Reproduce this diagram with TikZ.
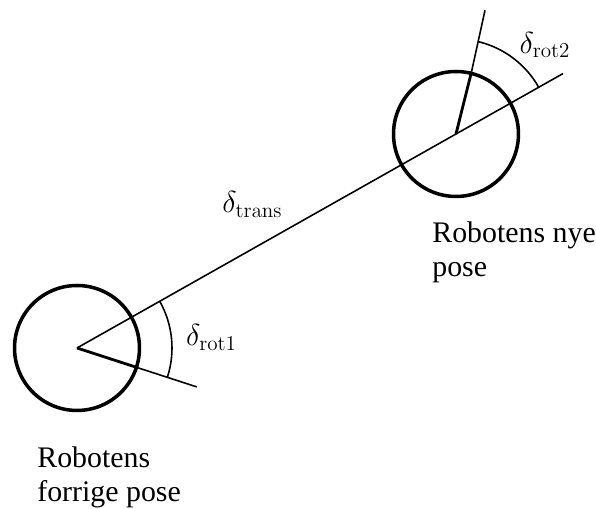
\documentclass[tikz,border=0pt]{standalone}
\usepackage{amsmath}
\usepackage[no-math]{fontspec}
\setmainfont{Liberation Serif}
\usetikzlibrary{calc}

\tikzset{
  robot/.style={circle, draw, line width=2pt, minimum size=2.5cm, inner sep=0pt},
  heading/.style={line width=1.6pt},
  thinline/.style={line width=0.9pt},
  caption/.style={align=left, anchor=north west, inner sep=0pt, font=\fontsize{17}{19.5}\selectfont},
  anglelabel/.style={inner sep=0pt, font=\fontsize{18.5}{21}\selectfont}
}

\begin{document}
\begin{tikzpicture}[x=0.02cm, y=0.02cm]
  \useasboundingbox (0,0) rectangle (596,509);

  % Old and new pose
  \node[robot] (old) at (77,161) {};
  \node[robot] (new) at (456,375) {};
  \coordinate (transend) at ($(new.center)+(29.45:123)$);
  \coordinate (oldtip) at ($(old.center)+(-18:126)$);
  \coordinate (newtip) at ($(new.center)+(76.8:127)$);

  % Translation
  \draw[thinline] (old.center) -- (transend);
  \node[anglelabel] (trans) at (252.5,304.5) {$\delta_{\mathrm{trans}}$};

  % Headings
  \draw[heading] (old.center) -- (old.-18);
  \draw[thinline] (old.-18) -- (oldtip);
  \draw[heading] (new.center) -- (new.76.8);
  \draw[thinline] (new.76.8) -- (newtip);

  % Rotation angles
  \draw[thinline] ($(old.center)+(-18:95)$) arc[start angle=-18, end angle=29.45, radius=95];
  \node[anglelabel] (rotone) at (211.5,171.5) {$\delta_{\mathrm{rot1}}$};
  \draw[thinline] ($(new.center)+(29.45:95)$) arc[start angle=29.45, end angle=76.8, radius=95];
  \node[anglelabel] (rottwo) at (545,464) {$\delta_{\mathrm{rot2}}$};

  % Captions
  \node[caption] (oldcap) at (37,62.5) {Robotens\\forrige pose};
  \node[caption] (newcap) at (432,288) {Robotens nye\\pose};
\end{tikzpicture}
\end{document}
